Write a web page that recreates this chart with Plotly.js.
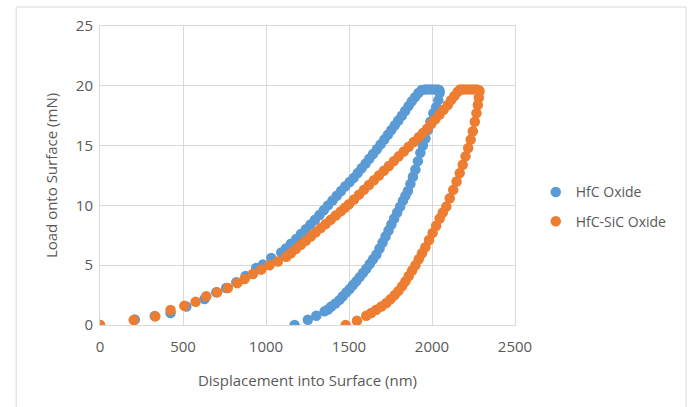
<!DOCTYPE html>
<html>
<head>
<meta charset="utf-8">
<script src="https://cdn.plot.ly/plotly-3.0.1.min.js"></script>
<style>html,body{margin:0;padding:0;background:#fff;}#chart{width:689px;height:407px;}</style>
</head>
<body>
<div id="chart"></div>
<script>
// HfC Oxide: displacement (nm) and load (mN)
const hfcX = [0,210,330,425,520,630,700,760,821,877,941,981,1032,1092,
  1120,1150,1182,1210,1240,1268,1295,1322,1348,1373,1400,1426,1452,1478,1504,1528,1552,1576,1600,1622,1645,1668,1690,1712,1734,1755,1776,1797,1818,1838,1858,1878,1898,1918,1938,1958,
  1975,1995,2015,2035,2045,
  2046,2038,2025,2008,1990,1975,1960,1945,1930,1915,1900,1885,1870,1855,1840,1825,1808,1790,1772,1755,1738,1720,1702,1684,1665,1645,1625,1604,1584,1564,1544,1524,1504,1484,1463,1443,1418,1393,1373,1353,1303,1252,1172];
const hfcY = [0,0.45,0.75,1.0,1.55,2.17,2.73,3.1,3.57,4.1,4.77,5.05,5.6,6.07,
  6.4,6.8,7.2,7.6,8.0,8.4,8.8,9.2,9.6,10.0,10.4,10.8,11.2,11.6,11.95,12.3,12.7,13.1,13.5,13.9,14.3,14.7,15.1,15.5,15.9,16.3,16.7,17.1,17.5,17.9,18.3,18.7,19.05,19.4,19.65,19.7,
  19.7,19.7,19.7,19.7,19.6,
  19.4,18.8,18.2,17.7,17.0,16.3,15.6,15.0,14.4,13.7,13.0,12.4,11.8,11.2,10.8,10.4,9.9,9.4,8.9,8.4,7.9,7.4,6.9,6.4,5.9,5.5,5.1,4.7,4.35,4.0,3.65,3.35,3.0,2.73,2.4,2.1,1.8,1.55,1.3,1.14,0.78,0.44,0];

// HfC-SiC Oxide: displacement (nm) and load (mN)
const sicX = [0,203,333,425,508,576,640,706,770,827,871,921,971,1021,1071,1122,
  1150,1180,1210,1240,1270,1300,1330,1360,1390,1420,1450,1475,1500,1530,1560,1590,1620,1650,1680,1710,1740,1770,1800,1830,1860,1890,1920,1945,1970,1995,2020,2045,2070,2095,2115,2135,2155,2170,
  2190,2210,2230,2250,2270,2285,
  2285,2282,2276,2268,2258,2246,2233,2218,2202,2185,2167,2148,2128,2107,2086,2065,2046,2025,2004,1982,1960,1940,1920,1900,1880,1860,1840,1820,1798,1775,1750,1725,1695,1664,1634,1604,1548,1480];
const sicY = [0,0.42,0.72,1.25,1.6,1.95,2.4,2.73,3.1,3.5,3.85,4.27,4.63,5.0,5.3,5.7,
  6.0,6.35,6.7,7.05,7.4,7.75,8.1,8.45,8.8,9.15,9.5,9.8,10.1,10.5,10.9,11.3,11.7,12.1,12.5,12.9,13.3,13.7,14.1,14.5,14.9,15.3,15.7,16.05,16.4,16.8,17.2,17.6,18.0,18.4,18.8,19.15,19.5,19.7,
  19.7,19.7,19.7,19.7,19.7,19.6,
  19.5,19.0,18.4,17.7,17.0,16.2,15.5,14.8,14.1,13.4,12.7,12.0,11.3,10.6,9.9,9.4,8.9,8.3,7.7,7.1,6.5,6.0,5.5,5.0,4.55,4.1,3.65,3.25,2.85,2.5,2.15,1.84,1.55,1.28,1.0,0.78,0.36,0];

const seriesNames = ['HfC Oxide', 'HfC-SiC Oxide'];
const xTicks = [0, 500, 1000, 1500, 2000, 2500];
const yTicks = [0, 5, 10, 15, 20, 25];

const FONT = 'Open Sans, Noto Sans, sans-serif';
const GRAY = '#595959';

const traces = [
  {x: hfcX, y: hfcY, name: seriesNames[0], type: 'scatter', mode: 'markers',
   marker: {color: '#5B9BD5', size: 10.5}, legendgroup: 'a', hoverinfo: 'skip'},
  {x: sicX, y: sicY, name: seriesNames[1], type: 'scatter', mode: 'markers',
   marker: {color: '#ED7D31', size: 10.5}, legendgroup: 'b', hoverinfo: 'skip'}
];

const layout = {
  width: 689, height: 407,
  margin: {l: 100, r: 174, t: 26, b: 82},
  paper_bgcolor: '#ffffff', plot_bgcolor: '#ffffff',
  font: {family: FONT, color: GRAY, size: 15},
  showlegend: true,
  legend: {x: 1.05, xanchor: 'left', y: 0.395, yanchor: 'middle',
           font: {family: FONT, size: 14, color: GRAY},
           traceorder: 'grouped', tracegroupgap: 8, bgcolor: 'rgba(0,0,0,0)'},
  xaxis: {range: [0, 2500], tickvals: xTicks, ticktext: xTicks.map(String),
          showgrid: true, gridcolor: '#d9d9d9', gridwidth: 1, zeroline: false,
          showline: true, mirror: true, linecolor: '#d9d9d9', linewidth: 1,
          ticks: 'outside', ticklen: 8, tickcolor: 'rgba(0,0,0,0)',
          tickfont: {family: FONT, size: 15, color: GRAY},
          title: {text: 'Displacement into Surface (nm)', font: {family: FONT, size: 15, color: GRAY}, standoff: 20},
          fixedrange: true},
  yaxis: {range: [0, 25], tickvals: yTicks, ticktext: yTicks.map(String),
          showgrid: true, gridcolor: '#d9d9d9', gridwidth: 1, zeroline: false,
          showline: true, mirror: true, linecolor: '#d9d9d9', linewidth: 1,
          ticks: 'outside', ticklen: 3, tickcolor: 'rgba(0,0,0,0)',
          tickfont: {family: FONT, size: 15, color: GRAY},
          title: {text: 'Load onto Surface (mN)', font: {family: FONT, size: 15, color: GRAY}, standoff: 14},
          fixedrange: true},
  shapes: [{type: 'rect', xref: 'paper', yref: 'paper', x0: -0.202, x1: 1.412, y0: -0.3, y1: 1.0635,
            line: {color: '#d9d9d9', width: 1}, fillcolor: 'rgba(0,0,0,0)', layer: 'below'}]
};

Plotly.newPlot('chart', traces, layout, {displayModeBar: false, staticPlot: true});
</script>
</body>
</html>
